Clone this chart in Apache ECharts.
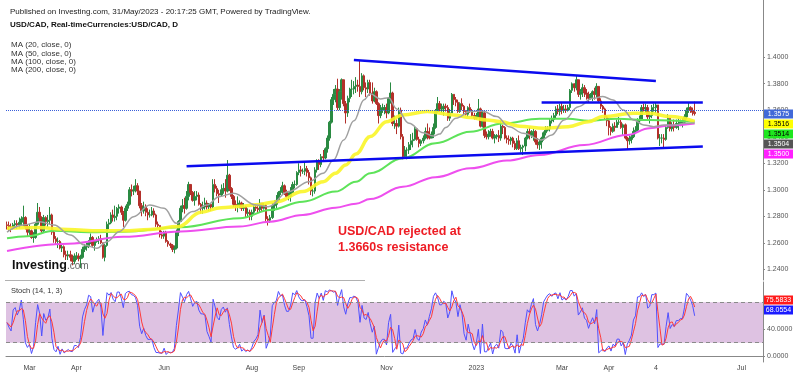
<!DOCTYPE html>
<html>
<head>
<meta charset="utf-8">
<title>USD/CAD daily</title>
<script src="https://cdn.jsdelivr.net/npm/echarts@6/dist/echarts.min.js"></script>
<style>
  html, body { margin: 0; padding: 0; background: #fff; }
  #chart { width: 800px; height: 376px; }
</style>
</head>
<body>
<div id="chart"></div>
<script>
// one candle per weekday, starting Mon 14 Feb 2022; open = previous close
const firstDay = '2022-02-14';
const totalDays = 371;
const firstOpen = 1.2735;

const closes = [
  1.2730, 1.2720, 1.2710, 1.2735, 1.2745,
  1.2735, 1.2755, 1.2780, 1.2790, 1.2720,
  1.2680, 1.2690, 1.2640, 1.2640, 1.2740,
  1.2830, 1.2790, 1.2690, 1.2790, 1.2760,
  1.2770, 1.2810, 1.2680, 1.2630, 1.2610,
  1.2610, 1.2560, 1.2570, 1.2510, 1.2500,
  1.2510, 1.2490, 1.2460, 1.2500, 1.2500,
  1.2480, 1.2490, 1.2550, 1.2570, 1.2570,
  1.2600, 1.2640, 1.2580, 1.2610, 1.2620,
  1.2630, 1.2600, 1.2490, 1.2580, 1.2740,
  1.2750, 1.2810, 1.2790, 1.2800, 1.2860,
  1.2870, 1.2830, 1.2770, 1.2860, 1.2890,
  1.3000, 1.2990, 1.2995, 1.3030, 1.2990,
  1.2880, 1.2840, 1.2870, 1.2830, 1.2810,
  1.2810, 1.2840, 1.2810, 1.2740, 1.2730,
  1.2660, 1.2650, 1.2680, 1.2610, 1.2590,
  1.2580, 1.2550, 1.2560, 1.2680, 1.2760,
  1.2860, 1.2880, 1.2860, 1.2950, 1.3040,
  1.2980, 1.2920, 1.2950, 1.2960, 1.2890,
  1.2860, 1.2870, 1.2900, 1.2870, 1.2890,
  1.2870, 1.3040, 1.3010, 1.2970, 1.2960,
  1.3000, 1.3010, 1.2990, 1.3110, 1.3010,
  1.2950, 1.2890, 1.2880, 1.2880, 1.2900,
  1.2860, 1.2870, 1.2820, 1.2830, 1.2800,
  1.2830, 1.2870, 1.2860, 1.2850, 1.2900,
  1.2860, 1.2880, 1.2780, 1.2770, 1.2790,
  1.2880, 1.2890, 1.2920, 1.2980, 1.2990,
  1.3030, 1.2980, 1.2950, 1.2950, 1.2980,
  1.3040, 1.3040, 1.3130, 1.3150, 1.3140,
  1.3140, 1.3160, 1.3130, 1.3090, 1.2990,
  1.2990, 1.3150, 1.3210, 1.3190, 1.3250,
  1.3240, 1.3310, 1.3390, 1.3510, 1.3680,
  1.3720, 1.3760, 1.3620, 1.3740, 1.3830,
  1.3650, 1.3580, 1.3690, 1.3760, 1.3760,
  1.3780, 1.3790, 1.3780, 1.3740, 1.3860,
  1.3770, 1.3760, 1.3810, 1.3730, 1.3670,
  1.3740, 1.3650, 1.3560, 1.3600, 1.3620,
  1.3620, 1.3580, 1.3690, 1.3730, 1.3500,
  1.3500, 1.3480, 1.3600, 1.3400, 1.3250,
  1.3300, 1.3300, 1.3340, 1.3370, 1.3380,
  1.3460, 1.3380, 1.3350, 1.3370, 1.3390,
  1.3440, 1.3410, 1.3390, 1.3420, 1.3470,
  1.3590, 1.3650, 1.3610, 1.3610, 1.3630,
  1.3620, 1.3540, 1.3580, 1.3720, 1.3680,
  1.3660, 1.3590, 1.3650, 1.3630, 1.3590,
  1.3570, 1.3620, 1.3590, 1.3560, 1.3540,
  1.3560, 1.3610, 1.3480, 1.3580, 1.3410,
  1.3400, 1.3420, 1.3440, 1.3390, 1.3400,
  1.3410, 1.3390, 1.3480, 1.3470, 1.3390,
  1.3380, 1.3370, 1.3390, 1.3350, 1.3310,
  1.3370, 1.3310, 1.3320, 1.3330, 1.3390,
  1.3440, 1.3410, 1.3430, 1.3440, 1.3360,
  1.3340, 1.3360, 1.3390, 1.3430, 1.3450,
  1.3460, 1.3520, 1.3530, 1.3560, 1.3610,
  1.3590, 1.3630, 1.3600, 1.3610, 1.3600,
  1.3620, 1.3750, 1.3800, 1.3770, 1.3830,
  1.3720, 1.3740, 1.3770, 1.3730, 1.3720,
  1.3690, 1.3720, 1.3740, 1.3720, 1.3780,
  1.3670, 1.3630, 1.3610, 1.3550, 1.3520,
  1.3470, 1.3440, 1.3480, 1.3470, 1.3510,
  1.3510, 1.3470, 1.3490, 1.3390, 1.3370,
  1.3380, 1.3400, 1.3440, 1.3450, 1.3520,
  1.3530, 1.3620, 1.3610, 1.3620, 1.3550,
  1.3560, 1.3620, 1.3620, 1.3640, 1.3390,
  1.3390, 1.3390, 1.3380, 1.3470, 1.3540,
  1.3460, 1.3480, 1.3470, 1.3500, 1.3500,
  1.3510, 1.3510, 1.3550, 1.3600, 1.3620,
  1.3600, 1.3585, 1.3575
];

const highs = [
  1.2760, 1.2760, 1.2745, 1.2750, 1.2770,
  1.2770, 1.2790, 1.2800, 1.2880, 1.2800,
  1.2740, 1.2740, 1.2700, 1.2680, 1.2750,
  1.2900, 1.2870, 1.2800, 1.2810, 1.2800,
  1.2810, 1.2870, 1.2820, 1.2700, 1.2650,
  1.2640, 1.2620, 1.2600, 1.2580, 1.2540,
  1.2540, 1.2540, 1.2510, 1.2520, 1.2530,
  1.2520, 1.2510, 1.2570, 1.2590, 1.2600,
  1.2620, 1.2670, 1.2650, 1.2620, 1.2640,
  1.2650, 1.2660, 1.2600, 1.2590, 1.2760,
  1.2780, 1.2830, 1.2850, 1.2880, 1.2870,
  1.2890, 1.2880, 1.2840, 1.2880, 1.2910,
  1.3020, 1.3040, 1.3030, 1.3080, 1.3050,
  1.2990, 1.2900, 1.2910, 1.2890, 1.2860,
  1.2850, 1.2870, 1.2860, 1.2820, 1.2760,
  1.2730, 1.2690, 1.2690, 1.2690, 1.2620,
  1.2600, 1.2590, 1.2580, 1.2700, 1.2770,
  1.2880, 1.2930, 1.2940, 1.2990, 1.3060,
  1.3040, 1.2990, 1.2990, 1.2990, 1.2980,
  1.2900, 1.2910, 1.2940, 1.2920, 1.2900,
  1.2900, 1.3080, 1.3080, 1.3030, 1.3000,
  1.3040, 1.3050, 1.3080, 1.3224, 1.3120,
  1.3020, 1.2960, 1.2920, 1.2950, 1.2920,
  1.2910, 1.2900, 1.2880, 1.2860, 1.2850,
  1.2850, 1.2890, 1.2890, 1.2880, 1.2930,
  1.2900, 1.2900, 1.2890, 1.2800, 1.2810,
  1.2900, 1.2920, 1.2960, 1.2990, 1.3020,
  1.3060, 1.3040, 1.3000, 1.2980, 1.3020,
  1.3060, 1.3070, 1.3140, 1.3200, 1.3180,
  1.3160, 1.3210, 1.3180, 1.3150, 1.3100,
  1.3020, 1.3170, 1.3230, 1.3230, 1.3270,
  1.3300, 1.3320, 1.3410, 1.3520, 1.3700,
  1.3760, 1.3790, 1.3838, 1.3760, 1.3840,
  1.3830, 1.3670, 1.3710, 1.3770, 1.3830,
  1.3820, 1.3850, 1.3830, 1.3977, 1.3880,
  1.3870, 1.3810, 1.3830, 1.3830, 1.3810,
  1.3770, 1.3750, 1.3660, 1.3640, 1.3650,
  1.3640, 1.3650, 1.3700, 1.3810, 1.3740,
  1.3560, 1.3530, 1.3620, 1.3620, 1.3420,
  1.3330, 1.3320, 1.3360, 1.3420, 1.3430,
  1.3480, 1.3460, 1.3400, 1.3380, 1.3410,
  1.3470, 1.3500, 1.3470, 1.3440, 1.3500,
  1.3610, 1.3700, 1.3670, 1.3650, 1.3650,
  1.3650, 1.3640, 1.3610, 1.3730, 1.3700,
  1.3700, 1.3680, 1.3660, 1.3690, 1.3640,
  1.3600, 1.3630, 1.3650, 1.3610, 1.3580,
  1.3580, 1.3685, 1.3620, 1.3600, 1.3600,
  1.3440, 1.3450, 1.3460, 1.3460, 1.3420,
  1.3420, 1.3450, 1.3520, 1.3490, 1.3480,
  1.3410, 1.3410, 1.3400, 1.3400, 1.3370,
  1.3390, 1.3410, 1.3340, 1.3340, 1.3400,
  1.3460, 1.3470, 1.3450, 1.3460, 1.3450,
  1.3390, 1.3380, 1.3400, 1.3440, 1.3480,
  1.3480, 1.3540, 1.3560, 1.3580, 1.3630,
  1.3640, 1.3650, 1.3660, 1.3640, 1.3640,
  1.3640, 1.3760, 1.3810, 1.3800, 1.3860,
  1.3820, 1.3760, 1.3800, 1.3790, 1.3760,
  1.3740, 1.3730, 1.3750, 1.3770, 1.3804,
  1.3780, 1.3690, 1.3640, 1.3620, 1.3560,
  1.3540, 1.3480, 1.3500, 1.3510, 1.3530,
  1.3550, 1.3530, 1.3500, 1.3500, 1.3400,
  1.3410, 1.3420, 1.3470, 1.3480, 1.3540,
  1.3560, 1.3640, 1.3650, 1.3650, 1.3640,
  1.3590, 1.3640, 1.3650, 1.3660, 1.3640,
  1.3420, 1.3420, 1.3420, 1.3480, 1.3570,
  1.3540, 1.3510, 1.3530, 1.3530, 1.3540,
  1.3530, 1.3540, 1.3570, 1.3620, 1.3655,
  1.3630, 1.3620, 1.3665
];

const lows = [
  1.2700, 1.2690, 1.2680, 1.2700, 1.2710,
  1.2705, 1.2710, 1.2730, 1.2725, 1.2700,
  1.2650, 1.2660, 1.2630, 1.2600, 1.2630,
  1.2730, 1.2760, 1.2670, 1.2680, 1.2730,
  1.2720, 1.2740, 1.2660, 1.2600, 1.2590,
  1.2560, 1.2550, 1.2530, 1.2490, 1.2470,
  1.2470, 1.2460, 1.2430, 1.2440, 1.2470,
  1.2460, 1.2410, 1.2480, 1.2530, 1.2540,
  1.2560, 1.2590, 1.2570, 1.2540, 1.2600,
  1.2590, 1.2590, 1.2480, 1.2460, 1.2570,
  1.2700, 1.2740, 1.2760, 1.2760, 1.2770,
  1.2820, 1.2810, 1.2720, 1.2760, 1.2840,
  1.2880, 1.2950, 1.2960, 1.2980, 1.2960,
  1.2860, 1.2800, 1.2820, 1.2800, 1.2770,
  1.2790, 1.2800, 1.2790, 1.2720, 1.2710,
  1.2640, 1.2630, 1.2630, 1.2600, 1.2570,
  1.2560, 1.2530, 1.2520, 1.2550, 1.2650,
  1.2760, 1.2830, 1.2820, 1.2850, 1.2920,
  1.2960, 1.2910, 1.2880, 1.2920, 1.2880,
  1.2820, 1.2820, 1.2850, 1.2850, 1.2840,
  1.2840, 1.2860, 1.2980, 1.2950, 1.2900,
  1.2950, 1.2970, 1.2940, 1.2980, 1.2990,
  1.2930, 1.2870, 1.2840, 1.2830, 1.2860,
  1.2840, 1.2840, 1.2790, 1.2790, 1.2770,
  1.2770, 1.2810, 1.2840, 1.2820, 1.2830,
  1.2840, 1.2850, 1.2760, 1.2730, 1.2750,
  1.2780, 1.2840, 1.2860, 1.2900, 1.2960,
  1.2970, 1.2960, 1.2940, 1.2920, 1.2910,
  1.2990, 1.3010, 1.3030, 1.3110, 1.3100,
  1.3120, 1.3110, 1.3100, 1.3040, 1.2960,
  1.2950, 1.2970, 1.3130, 1.3150, 1.3170,
  1.3220, 1.3230, 1.3280, 1.3370, 1.3500,
  1.3640, 1.3660, 1.3600, 1.3600, 1.3680,
  1.3630, 1.3500, 1.3550, 1.3660, 1.3700,
  1.3720, 1.3730, 1.3740, 1.3700, 1.3720,
  1.3750, 1.3700, 1.3730, 1.3710, 1.3650,
  1.3660, 1.3640, 1.3500, 1.3540, 1.3580,
  1.3570, 1.3540, 1.3570, 1.3650, 1.3480,
  1.3460, 1.3420, 1.3470, 1.3380, 1.3230,
  1.3240, 1.3230, 1.3270, 1.3300, 1.3320,
  1.3370, 1.3370, 1.3320, 1.3330, 1.3350,
  1.3380, 1.3380, 1.3380, 1.3390, 1.3390,
  1.3460, 1.3580, 1.3590, 1.3580, 1.3560,
  1.3590, 1.3520, 1.3520, 1.3590, 1.3640,
  1.3630, 1.3580, 1.3580, 1.3600, 1.3570,
  1.3560, 1.3550, 1.3580, 1.3550, 1.3530,
  1.3530, 1.3540, 1.3470, 1.3470, 1.3390,
  1.3380, 1.3380, 1.3400, 1.3380, 1.3350,
  1.3380, 1.3360, 1.3370, 1.3420, 1.3380,
  1.3350, 1.3340, 1.3340, 1.3320, 1.3300,
  1.3300, 1.3300, 1.3280, 1.3262, 1.3290,
  1.3380, 1.3380, 1.3390, 1.3370, 1.3340,
  1.3310, 1.3300, 1.3310, 1.3370, 1.3410,
  1.3440, 1.3440, 1.3500, 1.3510, 1.3540,
  1.3570, 1.3560, 1.3570, 1.3580, 1.3580,
  1.3590, 1.3600, 1.3730, 1.3740, 1.3750,
  1.3700, 1.3680, 1.3700, 1.3700, 1.3680,
  1.3660, 1.3680, 1.3670, 1.3680, 1.3700,
  1.3660, 1.3610, 1.3580, 1.3530, 1.3480,
  1.3410, 1.3410, 1.3430, 1.3440, 1.3470,
  1.3490, 1.3460, 1.3410, 1.3380, 1.3300,
  1.3340, 1.3350, 1.3390, 1.3420, 1.3440,
  1.3500, 1.3520, 1.3590, 1.3580, 1.3530,
  1.3500, 1.3540, 1.3590, 1.3580, 1.3380,
  1.3330, 1.3350, 1.3320, 1.3370, 1.3460,
  1.3440, 1.3440, 1.3440, 1.3460, 1.3450,
  1.3480, 1.3470, 1.3490, 1.3530, 1.3580,
  1.3580, 1.3560, 1.3560
];

// moving averages as drawn on the chart: [trading day number, value]
const ma20 = [
  [0, 1.2680], [8, 1.2734], [16, 1.2759], [23, 1.2734], [31, 1.2659], [38, 1.2583],
  [44, 1.2558], [49, 1.2608], [55, 1.2684], [62, 1.2797], [70, 1.2885], [77, 1.2860],
  [83, 1.2747], [91, 1.2835], [98, 1.2885], [104, 1.2948], [111, 1.2974], [122, 1.2885],
  [128, 1.2872], [138, 1.2986], [148, 1.3061], [155, 1.3125], [160, 1.3225], [165, 1.3376],
  [170, 1.3520], [175, 1.3680], [178, 1.3725], [183, 1.3685], [187, 1.3695], [191, 1.3610],
  [197, 1.3502], [204, 1.3430], [209, 1.3405], [212, 1.3420], [215, 1.3470], [220, 1.3540],
  [227, 1.3590], [233, 1.3595], [240, 1.3552], [246, 1.3476], [253, 1.3426], [262, 1.3376],
  [267, 1.3414], [273, 1.3527], [280, 1.3627], [287, 1.3690], [292, 1.3703], [297, 1.3678],
  [302, 1.3602], [307, 1.3527], [312, 1.3489], [317, 1.3476], [322, 1.3489], [327, 1.3489],
  [332, 1.3502], [337, 1.3504]
];
const ma50 = [
  [0, 1.2709], [15, 1.2715], [30, 1.2700], [45, 1.2690], [57, 1.2690], [70, 1.2700],
  [84, 1.2722], [95, 1.2830], [105, 1.2865], [115, 1.2875], [122, 1.2886], [132, 1.2910],
  [145, 1.2986], [155, 1.3061], [161, 1.3125], [166, 1.3187], [171, 1.3270], [178, 1.3401],
  [186, 1.3514], [194, 1.3565], [206, 1.3590], [219, 1.3565], [227, 1.3545], [235, 1.3527],
  [242, 1.3514], [251, 1.3480], [263, 1.3464], [275, 1.3476], [285, 1.3514], [292, 1.3552],
  [307, 1.3577], [315, 1.3577], [325, 1.3552], [337, 1.3516]
];
const ma100 = [
  [0, 1.2634], [10, 1.2650], [23, 1.2690], [40, 1.2680], [57, 1.2684], [85, 1.2717],
  [114, 1.2785], [129, 1.2848], [145, 1.2910], [161, 1.2986], [171, 1.3060], [178, 1.3125],
  [194, 1.3238], [210, 1.3351], [227, 1.3438], [243, 1.3500], [261, 1.3535], [275, 1.3535],
  [285, 1.3520], [299, 1.3535], [315, 1.3527], [337, 1.3514]
];
const ma200 = [
  [0, 1.2538], [30, 1.2592], [57, 1.2645], [85, 1.2685], [114, 1.2722], [129, 1.2759],
  [145, 1.2810], [161, 1.2865], [171, 1.2895], [178, 1.2930], [194, 1.3023], [210, 1.3095],
  [227, 1.3162], [245, 1.3220], [261, 1.3263], [283, 1.3338], [304, 1.3414], [315, 1.3464],
  [325, 1.3485], [337, 1.3500]
];

// hand-drawn trend lines: [[day, price], [day, price]]
const trendLines = [
  [[170, 1.3980], [318, 1.3821]],
  [[88, 1.3177], [341, 1.3327]],
  [[262, 1.3663], [341, 1.3663]]
];
const lastPrice = 1.3575;
const maLast = ['1.3516', '1.3514', '1.3504', '1.3500'];
const stochLast = [75.5833, 68.0554];

const priceTicks = [1.24, 1.26, 1.28, 1.30, 1.32, 1.34, 1.36, 1.38, 1.40];
const stochTicks = [0, 40];
const stochBand = [20, 80];
const tickDates = ['2022-03-01', '2022-04-01', '2022-06-01', '2022-08-01', '2022-09-01',
  '2022-11-01', '2023-01-02', '2023-03-01', '2023-04-03', '2023-05-04', '2023-07-03'];
const tickLabels = ['Mar', 'Apr', 'Jun', 'Aug', 'Sep', 'Nov', '2023', 'Mar', 'Apr', '4', 'Jul'];

const FONT = 'Liberation Sans, Arial, sans-serif';

const days = [];
for (let d = new Date(firstDay + 'T00:00:00Z'); days.length < totalDays; d.setUTCDate(d.getUTCDate() + 1)) {
  const wd = d.getUTCDay();
  if (wd !== 0 && wd !== 6) days.push(d.toISOString().slice(0, 10));
}

const candles = closes.map((c, i) => {
  const o = i ? closes[i - 1] : firstOpen;
  return [o, c, Math.min(lows[i], o, c), Math.max(highs[i], o, c)];
});

// Stoch (14, 1, 3) from the candles above
const stochK = closes.map((c, i) => {
  const from = Math.max(0, i - 13);
  const hh = Math.max(...candles.slice(from, i + 1).map(k => k[3]));
  const ll = Math.min(...candles.slice(from, i + 1).map(k => k[2]));
  return +(100 * (c - ll) / (hh - ll)).toFixed(2);
});
const stochD = stochK.map((k, i) => {
  const w = stochK.slice(Math.max(0, i - 2), i + 1);
  return +(w.reduce((a, b) => a + b, 0) / w.length).toFixed(2);
});

const chart = echarts.init(document.getElementById('chart'));

function maSeries(name, data, color, width) {
  return {
    name, type: 'line', data, xAxisIndex: 0, yAxisIndex: 0,
    showSymbol: false, smooth: 0.4, smoothMonotone: 'x', z: 3,
    lineStyle: { color, width }, silent: true
  };
}

function txt(text, x, y, font, fill, align) {
  return {
    type: 'text', x, y, z: 100, silent: true,
    style: { text, font, fill, align: align || 'left', verticalAlign: 'middle' }
  };
}

function tag(y, text, bg, fg) {
  return {
    type: 'group', x: 764, y: Math.round(y) - 4.5, z: 100, silent: true,
    children: [
      { type: 'rect', z: 100, shape: { x: 0, y: 0, width: 29, height: 9 }, style: { fill: bg } },
      { type: 'text', z: 101, x: 14.5, y: 4.7,
        style: { text, font: '7px ' + FONT, fill: fg, align: 'center', verticalAlign: 'middle' } }
    ]
  };
}

const option = {
  animation: false,
  backgroundColor: '#fff',
  textStyle: { fontFamily: FONT },
  grid: [
    { left: 6, right: 37, top: 0, height: 280, outerBoundsMode: 'none' },
    { left: 6, right: 37, top: 282, height: 80, outerBoundsMode: 'none' }
  ],
  xAxis: [
    {
      type: 'category', gridIndex: 0, data: days,
      axisLine: { show: false }, axisTick: { show: false }, axisLabel: { show: false },
      splitLine: { show: false }
    },
    {
      type: 'category', gridIndex: 1, data: days,
      axisLine: { lineStyle: { color: '#888' } },
      axisTick: { show: false },
      splitLine: { show: false },
      axisLabel: {
        interval: (i, v) => tickDates.includes(v),
        formatter: v => tickLabels[tickDates.indexOf(v)],
        fontSize: 7, color: '#444', margin: 3
      }
    }
  ],
  yAxis: [
    {
      type: 'value', gridIndex: 0, position: 'right', min: 1.2319, max: 1.4432,
      splitLine: { show: false },
      axisLine: { show: true, lineStyle: { color: '#888' } },
      axisTick: { show: true, length: 2, customValues: priceTicks, lineStyle: { color: '#888' } },
      axisLabel: { customValues: priceTicks, formatter: v => v.toFixed(4), fontSize: 7, color: '#555', margin: 4 }
    },
    {
      type: 'value', gridIndex: 1, position: 'right', min: -8.6, max: 110.2,
      splitLine: { show: false },
      axisLine: { show: true, lineStyle: { color: '#888' } },
      axisTick: { show: true, length: 2, customValues: stochTicks, lineStyle: { color: '#888' } },
      axisLabel: { customValues: stochTicks, formatter: v => v.toFixed(4), fontSize: 7, color: '#555', margin: 4 }
    }
  ],
  series: [
    {
      name: 'USD/CAD', type: 'candlestick', data: candles, xAxisIndex: 0, yAxisIndex: 0,
      barWidth: 2, z: 2,
      itemStyle: { color: '#2a8a42', color0: '#b3302a', borderColor: '#2a8a42', borderColor0: '#b3302a', borderWidth: 1 },
      markLine: {
        silent: true, symbol: ['none', 'none'], label: { show: false }, z: 5,
        data: [
          { yAxis: lastPrice, lineStyle: { color: '#3a5fd9', type: 'dotted', width: 1 } },
          ...trendLines.map(([a, b]) => [
            { coord: a, lineStyle: { color: '#0b0bef', type: 'solid', width: 2.5 } },
            { coord: b }
          ])
        ]
      }
    },
    maSeries('MA 200', ma200, '#ee4fee', 2),
    maSeries('MA 100', ma100, '#5ee35a', 2),
    maSeries('MA 50', ma50, 'rgba(250,245,40,0.9)', 3.5),
    maSeries('MA 20', ma20, '#a0a0a0', 1.5),
    {
      name: '%K', type: 'line', data: stochK, xAxisIndex: 1, yAxisIndex: 1,
      showSymbol: false, silent: true, lineStyle: { color: '#5050ff', width: 1 },
      markArea: {
        silent: true,
        itemStyle: { color: '#dec2e2' },
        data: [[{ yAxis: stochBand[0] }, { yAxis: stochBand[1] }]]
      },
      markLine: {
        silent: true, symbol: ['none', 'none'], label: { show: false },
        lineStyle: { color: '#8a8a8a', type: [4, 3], width: 1 },
        data: stochBand.map(v => ({ yAxis: v }))
      }
    },
    {
      name: '%D', type: 'line', data: stochD, xAxisIndex: 1, yAxisIndex: 1,
      showSymbol: false, silent: true, lineStyle: { color: '#ff3a3a', width: 1 }
    }
  ]
};

chart.setOption(option);

const priceY = chart.convertToPixel({ yAxisIndex: 0 }, lastPrice);
const stochKY = chart.convertToPixel({ yAxisIndex: 1 }, stochLast[1]);
const maColors = [['#ffff00', '#000'], ['#1ee61e', '#000'], ['#555555', '#fff'], ['#ff1fff', '#fff']];

chart.setOption({
  graphic: [
    txt('Published on Investing.com, 31/May/2023 - 20:17:25 GMT, Powered by TradingView.', 10, 11.5, '8px ' + FONT, '#222'),
    txt('USD/CAD, Real-timeCurrencies:USD/CAD, D', 10, 25, 'bold 8px ' + FONT, '#111'),
    txt('MA (20, close, 0)', 11, 45, '8px ' + FONT, '#333'),
    txt('MA (50, close, 0)', 11, 53.4, '8px ' + FONT, '#333'),
    txt('MA (100, close, 0)', 11, 61.8, '8px ' + FONT, '#333'),
    txt('MA (200, close, 0)', 11, 70.2, '8px ' + FONT, '#333'),
    txt('USD/CAD rejected at', 338, 232, 'bold 12.5px ' + FONT, '#ee1c24'),
    txt('1.3660s resistance', 338, 247.5, 'bold 12.5px ' + FONT, '#ee1c24'),
    txt('Investing', 12, 265.5, '900 12.5px ' + FONT, '#111'),
    txt('.com', 67, 266.5, '10px ' + FONT, '#666'),
    txt('Stoch (14, 1, 3)', 11, 290.5, '7.5px ' + FONT, '#333'),
    { type: 'line', z: 100, silent: true, shape: { x1: 5, y1: 280.5, x2: 365, y2: 280.5 }, style: { stroke: '#b0b0b0', lineWidth: 1 } },
    tag(priceY, lastPrice.toFixed(4), '#4169d8', '#fff'),
    ...maLast.map((t, i) => tag(priceY + 10 * (i + 1), t, maColors[i][0], maColors[i][1])),
    tag(stochKY - 10, stochLast[0].toFixed(4), '#ff1a1a', '#fff'),
    tag(stochKY, stochLast[1].toFixed(4), '#1a1aff', '#fff')
  ]
});

window.addEventListener('resize', () => chart.resize());
</script>
</body>
</html>
